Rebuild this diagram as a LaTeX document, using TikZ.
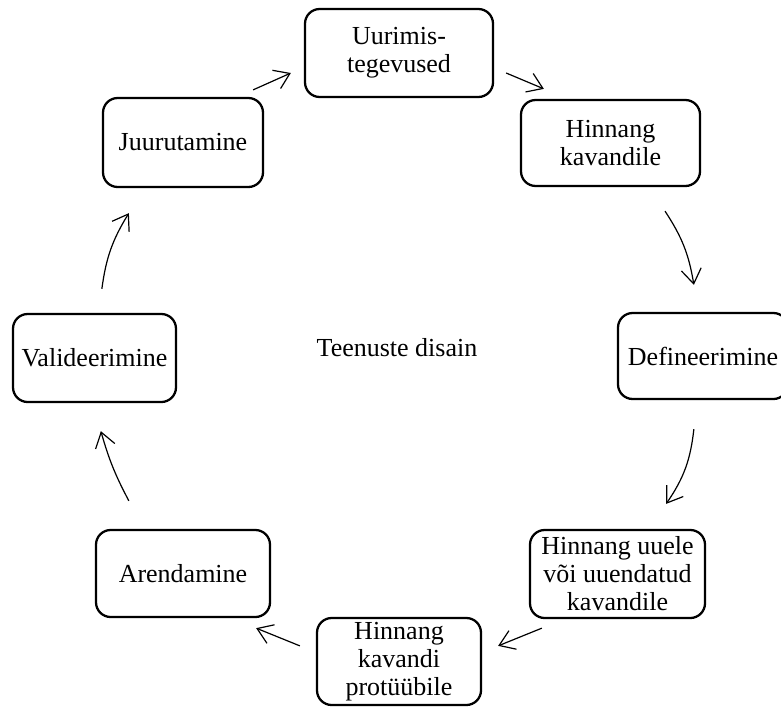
\documentclass[tikz,border=0pt]{standalone}
\usepackage{fontspec}
\setmainfont{Liberation Serif}
\usetikzlibrary{arrows.meta,calc}
\begin{document}
\begin{tikzpicture}[x=0.75pt,y=-0.75pt,
  box/.style={draw, rounded corners=11pt, line width=1.7pt, fill=white, align=center, inner sep=1pt,
    font=\fontsize{19.5}{21}\selectfont},
  lbl/.style={font=\fontsize{19.5}{21}\selectfont, inner sep=0pt},
  arr/.style={line width=0.9pt, -{Straight Barb[length=11pt,width=15pt,line width=0.9pt]}}]
\useasboundingbox (0,0) rectangle (781,707);
\clip (0,0) rectangle (781,707);
\node[box, minimum width=141pt, minimum height=66pt] (uur) at (399,53) {Uurimis-\\tegevused};
\node[box, minimum width=120pt, minimum height=66.75pt] (juur) at (183,142.5) {Juurutamine};
\node[box, minimum width=134.25pt, minimum height=64.5pt] (hk) at (610.5,143) {Hinnang\\kavandile};
\node[box, minimum width=122.25pt, minimum height=66pt] (val) at (94.5,358) {Valideerimine};
\node[box, minimum width=127.5pt, minimum height=64.5pt] (def) at (703,356) {Defineerimine};
\node[box, minimum width=131.25pt, minimum height=66pt] (hu) at (617.5,574) {Hinnang uuele\\või uuendatud\\kavandile};
\node[box, minimum width=123pt, minimum height=65.25pt] (pk) at (399,661.5) {Hinnang\\kavandi\\protüübile};
\node[box, minimum width=130.5pt, minimum height=65.25pt] (ar) at (183,573.5) {Arendamine};
\node[lbl, anchor=base] (td) at (397,356) {Teenuste disain};

\draw[arr] ($(juur.north east)+(-11,-7)$) -- ($(uur.west)+(-13,20)$);
\draw[arr] ($(uur.east)+(12,20)$) -- ($(hk.north west)+(24,-10)$);
\draw[arr] ($(hk.south)+(54.5,24)$) to[bend left=12] ($(def.north west)+(77,-27)$);
\draw[arr] ($(def.south west)+(77,29)$) to[bend left=14] ($(hu.north east)+(-40,-25)$);
\draw[arr] ($(hu.south west)+(13,9)$) -- ($(pk.north east)+(16,29)$);
\draw[arr] ($(pk.north west)+(-16,29)$) -- ($(ar.south east)+(-15,10)$);
\draw[arr] ($(ar.north west)+(34,-28)$) to[bend left=6] ($(val.south west)+(89,28)$);
\draw[arr] ($(val.north west)+(90,-24)$) to[bend left=12] ($(juur.south west)+(27,25)$);
\end{tikzpicture}
\end{document}
